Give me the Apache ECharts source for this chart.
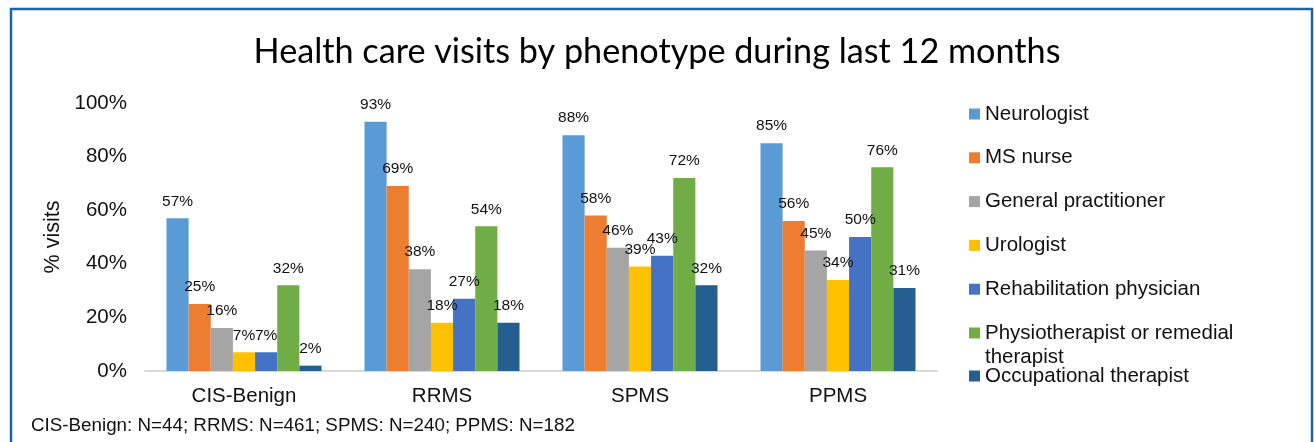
<!DOCTYPE html>
<html>
<head>
<meta charset="utf-8">
<script src="https://cdn.jsdelivr.net/npm/echarts@6/dist/echarts.min.js"></script>
<style>
html,body{margin:0;padding:0;background:#fff;}
#chart{width:1314px;height:442px;}
</style>
</head>
<body>
<div id="chart"></div>
<script>
const categories = ['CIS-Benign', 'RRMS', 'SPMS', 'PPMS'];
const seriesNames = ['Neurologist', 'MS nurse', 'General practitioner', 'Urologist', 'Rehabilitation physician', 'Physiotherapist or remedial therapist', 'Occupational therapist'];
const neurologist = [57, 93, 88, 85];
const msNurse = [25, 69, 58, 56];
const generalPractitioner = [16, 38, 46, 45];
const urologist = [7, 18, 39, 34];
const rehabilitationPhysician = [7, 27, 43, 50];
const physiotherapist = [32, 54, 72, 76];
const occupationalTherapist = [2, 18, 32, 31];
const yTicks = [0, 20, 40, 60, 80, 100];
const titleText = 'Health care visits by phenotype during last 12 months';
const footnoteText = 'CIS-Benign: N=44; RRMS: N=461; SPMS: N=240; PPMS: N=182';

const seriesValues = [neurologist, msNurse, generalPractitioner, urologist, rehabilitationPhysician, physiotherapist, occupationalTherapist];
const colors = ['#5B9BD5', '#ED7D31', '#A5A5A5', '#FFC000', '#4472C4', '#70AD47', '#255E91'];
const FONT = 'Liberation Sans, Arial, sans-serif';

const chart = echarts.init(document.getElementById('chart'));
const legendText = {fontFamily: FONT, fontSize: 20.5, color: '#111', lineHeight: 22};
chart.setOption({
  animation: false,
  color: colors,
  title: {
    text: titleText,
    left: 'center',
    top: 30,
    textStyle: {fontFamily: 'Lato, sans-serif', fontWeight: 'normal', fontSize: 34.2, color: '#000'}
  },
  legend: [
    {
      orient: 'vertical', left: 969, top: 103, padding: 0, itemWidth: 11, itemHeight: 11, itemGap: 21.8,
      icon: 'rect', textStyle: legendText, selectedMode: false,
      data: seriesNames.slice(0, 5)
    },
    {
      orient: 'vertical', left: 969, top: 297, padding: 0, itemWidth: 11, itemHeight: 11,
      icon: 'rect', selectedMode: false,
      textStyle: Object.assign({}, legendText, {lineHeight: 24}),
      formatter: function () { return '\u00a0\nPhysiotherapist or remedial\ntherapist'; },
      data: [seriesNames[5]]
    },
    {
      orient: 'vertical', left: 969, top: 365, padding: 0, itemWidth: 11, itemHeight: 11,
      icon: 'rect', textStyle: legendText, selectedMode: false,
      data: [seriesNames[6]]
    }
  ],
  grid: {left: 145, right: 377, top: 103, bottom: 71, containLabel: false},
  xAxis: {
    type: 'category',
    data: categories,
    axisLine: {lineStyle: {color: '#D9D9D9', width: 2}},
    axisTick: {show: false},
    axisLabel: {fontFamily: FONT, fontSize: 20.5, color: '#111', margin: 15}
  },
  yAxis: {
    type: 'value',
    min: 0, max: 100, interval: 20,
    name: '% visits',
    nameLocation: 'middle',
    nameRotate: 90,
    nameGap: 80,
    nameTextStyle: {fontFamily: FONT, fontSize: 21.5, color: '#111'},
    axisLine: {show: false},
    axisTick: {show: false},
    splitLine: {show: false},
    axisLabel: {fontFamily: FONT, fontSize: 20.5, color: '#111', margin: 18, formatter: '{value}%'}
  },
  series: seriesNames.map(function (name, i) {
    return {
      name: name,
      type: 'bar',
      data: seriesValues[i],
      barGap: 0,
      barCategoryGap: '21.7%',
      label: {
        show: true, position: 'top', distance: 9,
        fontFamily: FONT, fontSize: 15.5, color: '#111',
        formatter: '{c}%'
      }
    };
  }),
  graphic: [
    {
      type: 'rect',
      shape: {x: 11, y: 9, width: 1301, height: 460},
      style: {fill: 'none', stroke: '#1565B0', lineWidth: 2.5},
      silent: true
    },
    {
      type: 'text',
      left: 31, top: 416,
      style: {text: footnoteText, fontFamily: FONT, fontSize: 18.8, fill: '#111'}
    }
  ]
});
</script>
</body>
</html>
